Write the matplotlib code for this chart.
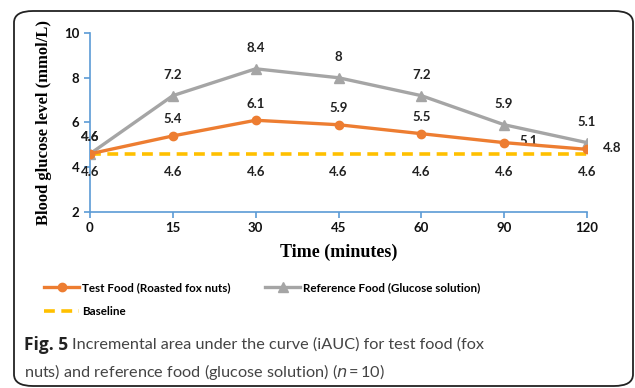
import numpy as np
import matplotlib.pyplot as plt
from matplotlib.patches import FancyBboxPatch

# data
times = ['0', '15', '30', '45', '60', '90', '120']
test_food = [4.6, 5.4, 6.1, 5.9, 5.5, 5.1, 4.8]
reference_food = [4.6, 7.2, 8.4, 8.0, 7.2, 5.9, 5.1]
baseline = [4.6, 4.6, 4.6, 4.6, 4.6, 4.6, 4.6]

ORANGE = '#ED7D31'
GREY = '#A5A5A5'
GOLD = '#FFC000'
AXBLUE = '#5B9BD5'
LAB = 'Lato'

fig = plt.figure(figsize=(6.35, 3.88), dpi=100)

# rounded frame round the whole figure
box = FancyBboxPatch((14 / 635, 2 / 388), 619 / 635, 375 / 388,
                     boxstyle='round,pad=0,rounding_size=0.03',
                     transform=fig.transFigure, fill=False,
                     edgecolor='#222222', linewidth=1.3)
fig.patches.append(box)

ax = fig.add_axes([90 / 635, 1 - 212 / 388, 497 / 635, 179 / 388])
x = np.arange(len(times))

ax.plot(x, baseline, color=GOLD, lw=2.6, ls=(0, (3, 1.8)), zorder=2,
        label='Baseline')
ax.plot(x, reference_food, color=GREY, lw=2.4, marker='^', ms=7, zorder=3,
        label='Reference Food (Glucose solution)')
ax.plot(x, test_food, color=ORANGE, lw=2.4, marker='o', ms=6, zorder=4,
        label='Test Food (Roasted fox nuts)')

lab_kw = dict(textcoords='offset points', ha='center', va='center',
              fontsize=9.5, fontweight='bold', family=LAB, color='#222222')


def fmt(v):
    return ('%g' % v)


for i, v in enumerate(reference_food):
    off = (0, 15) if i > 0 else (0, 12)
    ax.annotate(fmt(v), (x[i], v), xytext=off, **lab_kw)
for i, v in enumerate(test_food):
    if i >= 5:
        off = (18, 1)
    else:
        off = (0, 12)
    ax.annotate(fmt(v), (x[i], v), xytext=off, **lab_kw)
for i, v in enumerate(baseline):
    ax.annotate(fmt(v), (x[i], v), xytext=(0, -13), **lab_kw)

ax.set_xlim(0, len(times) - 1)
ax.set_ylim(2, 10)
ax.set_xticks(x)
ax.set_xticklabels(times)
ax.set_yticks([2, 4, 6, 8, 10])
for s in ['top', 'right']:
    ax.spines[s].set_visible(False)
for s in ['left', 'bottom']:
    ax.spines[s].set_color(AXBLUE)
    ax.spines[s].set_linewidth(1.2)
ax.tick_params(colors=AXBLUE, length=4, width=1.2, labelcolor='#111111')
for t in ax.get_xticklabels() + ax.get_yticklabels():
    t.set_fontfamily(LAB)
    t.set_fontweight('bold')
    t.set_fontsize(9.5)
ax.set_ylabel('Blood glucose level (mmol/L)', family='Liberation Serif',
              fontweight='bold', fontsize=12, labelpad=9)
ax.set_xlabel('Time (minutes)', family='Liberation Serif',
              fontweight='bold', fontsize=13, labelpad=7)

h, l = ax.get_legend_handles_labels()
# order: test, baseline (first column), reference (second column)
order = [2, 0, 1]
fig.legend([h[i] for i in order], [l[i] for i in order], ncol=2,
           loc='upper left', bbox_to_anchor=(44 / 635, 1 - 282 / 388),
           frameon=False, handlelength=3.0, columnspacing=3.0,
           labelspacing=1.1, handletextpad=0.25, borderpad=0,
           borderaxespad=0,
           prop={'family': LAB, 'weight': 'bold', 'size': 8.4})

# caption: bold lead then plain text right after it
lead = fig.text(24 / 635, 1 - 345 / 388, 'Fig. 5', fontsize=12.5,
                family='Open Sans', fontweight='bold', va='center',
                color='#222222')
fig.canvas.draw()
bb = lead.get_window_extent()
fig.text(bb.x1 / 635 + 4 / 635, 1 - 345 / 388,
         'Incremental area under the curve (iAUC) for test food (fox',
         fontsize=11.7, family='Lato', va='center', color='#444444')
fig.text(24 / 635, 1 - 372 / 388,
         'nuts) and reference food (glucose solution) ($n$\u2009=\u200910)',
         fontsize=11.7, family='Lato', va='center', color='#444444')

fig.savefig('out.png', dpi=100)
